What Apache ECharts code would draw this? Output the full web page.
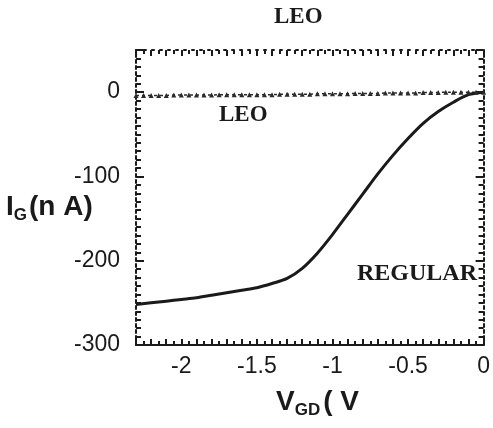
<!DOCTYPE html>
<html>
<head>
<meta charset="utf-8">
<script src="https://cdn.jsdelivr.net/npm/echarts@6/dist/echarts.min.js"></script>
<style>html,body{margin:0;padding:0;background:#fff;}#c{width:493px;height:428px;}</style>
</head>
<body>
<div id="c"></div>
<script>
// ---- data ----
const regularX = [-2.3,-2.2,-2.1,-2.0,-1.9,-1.8,-1.7,-1.6,-1.5,-1.4,-1.3,-1.2,-1.1,-1.0,-0.9,-0.8,-0.7,-0.6,-0.5,-0.4,-0.3,-0.2,-0.1,0.0];
const regularY = [-252,-250,-248,-246,-244,-241,-238,-235,-232,-227,-221,-209,-191,-169,-145,-121,-97,-75,-55,-37,-23,-12,-3,0];
const leoX = [-2.3,-2.25,-2.2,-2.15,-2.1,-2.05,-2.0,-1.95,-1.9,-1.85,-1.8,-1.75,-1.7,-1.65,-1.6,-1.55,-1.5,-1.45,-1.4,-1.35,-1.3,-1.25,-1.2,-1.15,-1.1,-1.05,-1.0,-0.95,-0.9,-0.85,-0.8,-0.75,-0.7,-0.65,-0.6,-0.55,-0.5,-0.45,-0.4,-0.35,-0.3,-0.25,-0.2,-0.15,-0.1,-0.05,0.0];
const leoY = [-4,-4,-4,-4,-4,-3.5,-3.5,-3.5,-3.5,-3.5,-3.5,-3,-3,-3,-3,-3,-3,-3,-3,-2.5,-2.5,-2.5,-2.5,-2.5,-2,-2,-2,-2,-2,-1.5,-1.5,-1.5,-1.5,-1,-1,-1,-1,-1,-0.5,-0.5,-0.5,0,0,0,0,0,0];
const xLabels = [-2, -1.5, -1, -0.5, 0];
const yLabels = [-300, -200, -100, 0];

const regularData = regularX.map((x, i) => [x, regularY[i]]);
const leoData = leoX.map((x, i) => [x, leoY[i]]);

const chart = echarts.init(document.getElementById('c'));
const labelFont = {fontFamily: 'Liberation Sans, Arial, sans-serif', fontSize: 23, color: '#1a1a1a'};
const GRID_TOP = 50, GRID_BOTTOM = 83, H = 428;
const gridHeight = H - GRID_TOP - GRID_BOTTOM;

function xFmt(v) {
  const r = Math.round(v * 10) / 10;
  return xLabels.indexOf(r) >= 0 ? String(r) : '';
}
function yFmt(v) {
  return yLabels.indexOf(v) >= 0 ? String(v) : '';
}

function xAxisDef(pos, extra) {
  return Object.assign({
    type: 'value', min: -2.3, max: 0, interval: 0.1, position: pos,
    splitLine: {show: false},
    axisTick: {show: true, inside: true, length: 6, lineStyle: {color: '#1a1a1a', width: 2}},
    minorTick: {show: true, splitNumber: 2, length: 4, lineStyle: {color: '#1a1a1a', width: 2}},
    axisLabel: {show: false}
  }, extra);
}
function yAxisDef(pos, extra) {
  return Object.assign({
    type: 'value', min: -300, max: 50, interval: 100, position: pos,
    splitLine: {show: false},
    axisTick: {show: true, inside: true, length: 8, lineStyle: {color: '#1a1a1a', width: 2}},
    minorTick: {show: true, splitNumber: 10, length: 5, lineStyle: {color: '#1a1a1a', width: 2}},
    axisLabel: {show: false}
  }, extra);
}

chart.setOption({
  animation: false,
  backgroundColor: '#fff',
  grid: {left: 136, right: 8, top: GRID_TOP, bottom: GRID_BOTTOM, containLabel: false},
  xAxis: [
    xAxisDef('bottom', {
      axisLine: {show: true, onZero: false, lineStyle: {color: '#1a1a1a', width: 2}},
      axisLabel: Object.assign({show: true, formatter: xFmt, margin: 10}, labelFont)
    }),
    xAxisDef('top', {
      axisLine: {show: true, onZero: false, lineStyle: {color: '#1a1a1a', width: 2, type: [2, 6]}}
    }),
    // tick comb for the bottom edge (pointing up into the plot)
    xAxisDef('top', {
      offset: -gridHeight,
      axisLine: {show: false, onZero: false},
      axisTick: {show: true, inside: false, length: 6, lineStyle: {color: '#1a1a1a', width: 2}},
      minorTick: {show: true, splitNumber: 2, length: 4, lineStyle: {color: '#1a1a1a', width: 2}}
    })
  ],
  yAxis: [
    yAxisDef('left', {
      axisLine: {show: true, onZero: false, lineStyle: {color: '#1a1a1a', width: 2, type: [3, 3]}},
      axisLabel: Object.assign({show: true, formatter: yFmt, margin: 16}, labelFont)
    }),
    yAxisDef('right', {
      axisLine: {show: true, onZero: false, lineStyle: {color: '#1a1a1a', width: 2, type: [3, 3]}}
    })
  ],
  series: [
    {
      name: 'LEO', type: 'line', data: leoData,
      symbol: 'triangle', symbolSize: 5, showSymbol: true,
      itemStyle: {color: '#2a2a2a'},
      lineStyle: {color: '#2a2a2a', width: 1.5, type: [3, 3]}
    },
    {
      name: 'REGULAR', type: 'line', data: regularData, smooth: 0.3,
      showSymbol: false,
      lineStyle: {color: '#1a1a1a', width: 3}
    }
  ],
  graphic: [
    {type: 'text', left: 274, top: 6, style: {text: 'LEO', font: 'bold 23px "Liberation Serif", "Times New Roman", serif', fill: '#1a1a1a'}},
    {type: 'text', left: 219, top: 104, style: {text: 'LEO', font: 'bold 23px "Liberation Serif", "Times New Roman", serif', fill: '#1a1a1a'}},
    {type: 'text', left: 357, top: 262, style: {text: 'REGULAR', font: 'bold 24px "Liberation Serif", "Times New Roman", serif', fill: '#1a1a1a'}},
    {type: 'text', left: 6, top: 193, style: {
      rich: {
        b: {font: 'bold 28px "Liberation Sans", Arial, sans-serif', fill: '#1a1a1a'},
        s: {font: 'bold 17px "Liberation Sans", Arial, sans-serif', fill: '#1a1a1a', padding: [16, 2, 0, 0]}
      },
      text: '{b|I}{s|G}{b|(n A)}'
    }},
    {type: 'text', left: 276, top: 388, style: {
      rich: {
        b: {font: 'bold 28px "Liberation Sans", Arial, sans-serif', fill: '#1a1a1a'},
        s: {font: 'bold 17px "Liberation Sans", Arial, sans-serif', fill: '#1a1a1a', padding: [16, 3, 0, 0]}
      },
      text: '{b|V}{s|GD}{b|( V}'
    }}
  ]
});
</script>
</body>
</html>
